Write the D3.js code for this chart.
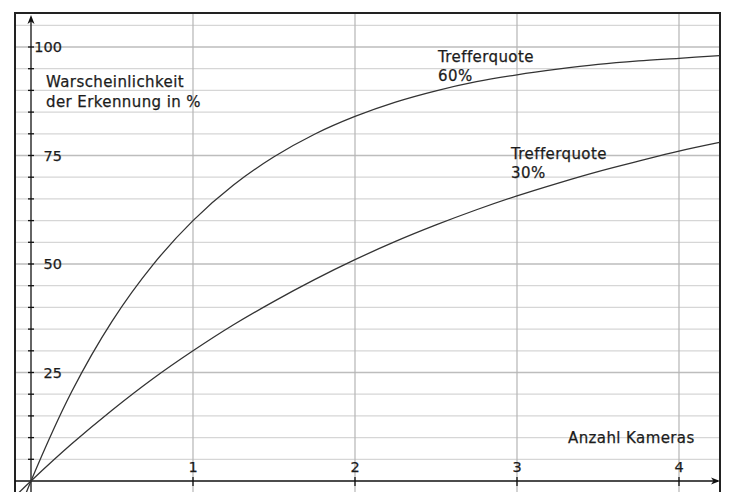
<!DOCTYPE html>
<html><head><meta charset="utf-8">
<script src="https://cdn.jsdelivr.net/npm/d3@7"></script>
<style>
html,body{margin:0;padding:0;background:#fff;}
svg{display:block;}
text{font-family:"DejaVu Sans",sans-serif;fill:#1c1c1c;stroke:#1c1c1c;stroke-width:0.25px;}
text.lab{font-size:15px;letter-spacing:0.4px;}
</style></head>
<body>
<script>
// Data
const xValues = [-0.1,0,0.25,0.5,0.75,1,1.25,1.5,1.75,2,2.25,2.5,2.75,3,3.25,3.5,3.75,4,4.25];
const rate60 = [-9.6,0,20.5,36.8,49.7,60.0,68.2,74.7,79.9,84.0,87.3,89.9,92.0,93.6,94.9,96.0,96.8,97.4,98.0];
const rate30 = [-3.6,0,8.5,16.3,23.5,30.0,36.0,41.4,46.4,51.0,55.2,59.0,62.5,65.7,68.6,71.3,73.7,76.0,78.0];
const xTicks = [1,2,3,4];
const yTickLabels = [25,50,75,100];
const seriesLabels = [["Trefferquote","60%"],["Trefferquote","30%"]];
const yTitle = ["Warscheinlichkeit","der Erkennung in %"];
const xTitle = "Anzahl Kameras";

(function(){
const W=729,H=492;
const svg=d3.select("body").append("svg").attr("width",W).attr("height",H);
const x=d3.scaleLinear().domain([0,4]).range([31,679]);
const y=d3.scaleLinear().domain([0,100]).range([481,47]);
const L=15, T=13, R=720;

svg.append("defs").append("clipPath").attr("id","clip")
  .append("rect").attr("x",L).attr("y",T).attr("width",R-L).attr("height",H-T);

const g=svg.append("g");
const hLines=d3.range(5,110,5);
g.selectAll(".hg").data(hLines).join("line")
  .attr("x1",L).attr("x2",R).attr("y1",d=>y(d)).attr("y2",d=>y(d))
  .attr("stroke",d=>d%25===0?"#bdbdbd":"#d6d6d6").attr("stroke-width",d=>d%25===0?1.6:1.2);
g.selectAll(".vg").data(xTicks).join("line")
  .attr("x1",d=>x(d)).attr("x2",d=>x(d)).attr("y1",T).attr("y2",H)
  .attr("stroke","#b5b5b5").attr("stroke-width",1.2);

svg.append("path").attr("d",`M${L},${H}V${T}H${R}V${H}`)
  .attr("fill","none").attr("stroke","#222").attr("stroke-width",2);

const ax=svg.append("g").attr("stroke","#111").attr("stroke-width",1.3);
ax.append("line").attr("x1",x(0)).attr("x2",x(0)).attr("y1",H).attr("y2",18);
ax.append("line").attr("x1",L).attr("x2",R-2).attr("y1",y(0)).attr("y2",y(0));
svg.append("path").attr("d",`M${x(0)},${15}l-3.5,9l3.5,-2.5l3.5,2.5z`).attr("fill","#111");
svg.append("path").attr("d",`M${R},${y(0)}l-9,-3.5l2.5,3.5l-2.5,3.5z`).attr("fill","#111");
ax.selectAll(".yt").data(d3.range(5,105,5)).join("line")
  .attr("x1",x(0)-3).attr("x2",x(0)+3).attr("y1",d=>y(d)).attr("y2",d=>y(d));
ax.selectAll(".xt").data(xTicks).join("line")
  .attr("x1",d=>x(d)).attr("x2",d=>x(d)).attr("y1",y(0)-4).attr("y2",y(0)+5);

svg.selectAll(".yl").data(yTickLabels).join("text")
  .attr("x",62).attr("y",d=>y(d)).attr("dy","0.36em").attr("text-anchor","end")
  .attr("font-size",14.5).text(d=>d);
svg.selectAll(".xl").data(xTicks).join("text")
  .attr("x",d=>x(d)).attr("y",472).attr("text-anchor","middle")
  .attr("font-size",14.5).text(d=>d);

const line=d3.line().x((d,i)=>x(xValues[i])).y(d=>y(d)).curve(d3.curveCatmullRom);
const cg=svg.append("g").attr("clip-path","url(#clip)");
[rate60,rate30].forEach(s=>{
  cg.append("path").attr("d",line(s)).attr("fill","none").attr("stroke","#333").attr("stroke-width",1.3);
});

const tt=svg.append("text").attr("class","lab");
yTitle.forEach((t,i)=>tt.append("tspan").attr("x",46).attr("y",86.5+i*20.5).text(t));
svg.append("text").attr("class","lab").attr("x",568).attr("y",443).text(xTitle);
const labPos=[[438,62],[511,159]];
seriesLabels.forEach((l,k)=>{
  const t=svg.append("text").attr("class","lab");
  l.forEach((s,i)=>t.append("tspan").attr("x",labPos[k][0]).attr("y",labPos[k][1]+i*19).text(s));
});
})();
</script>
</body></html>
